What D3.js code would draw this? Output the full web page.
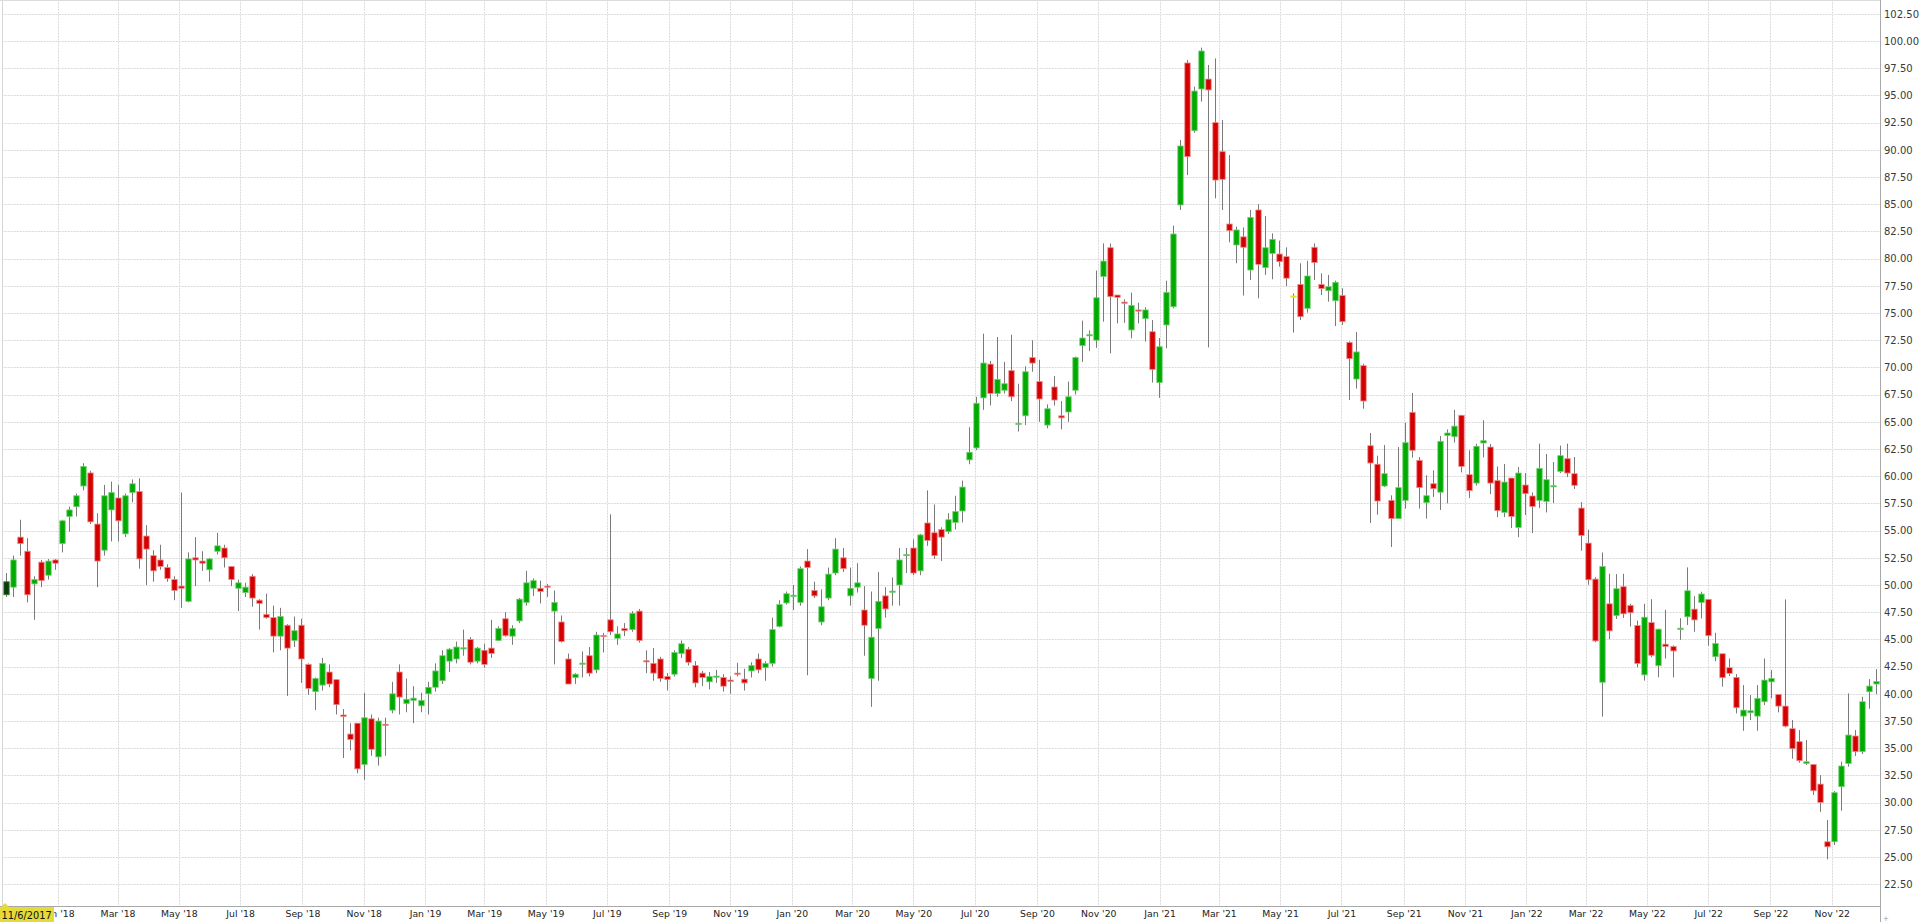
<!DOCTYPE html>
<html><head><meta charset="utf-8">
<script src="https://cdn.jsdelivr.net/npm/d3@7"></script>
<style>
html,body{margin:0;padding:0;background:#fff;overflow:hidden}
svg{display:block}
</style></head><body>
<svg id="c" width="1920" height="922"></svg>
<script>
// weekly candles, Monday dates from weekStart up to (but excluding) weekEnd
const weekStart = "2017-11-06";
const weekEnd = "2022-12-13";
const openVals = [
49.1,49.8,54.4,53.1,50.1,52.1,50.9,52.3,53.8,56.3,57.2,59.1,60.3,55.6,53.2,56.9,58.0,54.7,58.5,58.6,
54.5,52.7,52.3,51.6,50.5,49.9,48.5,52.5,52.2,51.4,53.1,53.4,51.7,49.7,49.3,50.8,48.6,47.3,47.0,45.3,
46.3,44.9,46.3,42.7,40.2,40.8,42.0,41.3,38.05,36.3,37.3,33.5,37.7,34.2,37.2,38.5,42.0,39.1,39.4,38.9,
40.0,40.6,41.2,43.0,43.2,44.2,45.0,43.0,44.0,44.2,44.9,46.9,45.3,46.7,48.4,49.7,49.7,49.9,47.6,46.6,
43.2,41.5,42.8,43.5,42.2,45.37,46.8,45.1,46.0,45.9,47.6,43.04,42.8,43.2,41.6,41.8,43.7,44.1,42.6,41.9,
41.1,41.57,41.5,41.26,41.9,41.35,42.1,43.2,42.4,42.8,46.2,48.35,49.03,48.4,52.2,49.5,46.6,48.8,51.1,52.5,
49.0,49.8,47.7,41.4,46.0,49.0,49.4,50.0,52.73,53.4,51.3,55.7,54.8,55.1,54.9,55.75,56.8,61.5,62.6,67.2,
70.3,67.6,67.9,69.7,64.8,65.55,70.9,68.7,64.7,68.2,65.55,65.9,67.9,72.0,72.92,72.5,78.35,81.0,76.65,76.0,
73.44,75.28,74.48,73.28,68.6,73.9,75.58,84.93,97.98,91.76,95.59,96.5,92.5,89.83,83.18,81.25,82.0,78.95,84.47,79.17,
80.48,80.42,80.18,76.56,77.63,75.43,81.04,77.63,77.05,76.13,76.6,72.3,68.93,70.16,62.8,61.1,59.1,57.78,56.1,57.78,
65.87,61.46,57.57,59.31,58.53,63.75,63.63,65.6,60.14,59.37,63.05,62.68,59.59,56.67,59.83,55.29,59.19,58.18,57.78,57.68,
59.1,60.44,61.61,60.23,57.07,53.85,50.54,41.06,48.27,47.19,49.84,48.12,46.27,41.74,46.55,42.59,44.56,44.34,46.0,47.08,
47.78,48.4,48.68,43.41,43.68,42.4,41.5,37.95,38.26,37.95,39.27,41.1,39.94,38.87,36.79,35.6,33.6,33.51,31.7,26.4,
26.4,31.46,33.6,36.12,34.68,40.19,40.9
];
const highVals = [
51.1,52.7,56.0,54.3,50.8,52.3,52.4,52.4,56.0,57.2,58.4,61.2,60.5,56.6,59.2,59.5,59.2,58.4,59.7,59.8,
55.5,53.2,53.7,51.9,50.8,58.5,53.0,54.4,53.1,52.5,54.8,53.7,51.7,50.5,50.2,51.0,48.7,49.2,48.1,47.9,
46.4,47.1,46.9,42.8,41.5,43.3,42.7,41.3,38.6,37.3,37.3,40.1,38.1,37.8,37.8,41.1,42.7,41.4,40.7,40.1,
41.1,42.8,44.0,44.2,44.8,45.9,45.2,44.3,44.6,46.8,46.2,47.5,46.3,48.8,51.3,50.6,50.4,50.1,49.5,47.2,
43.7,41.9,43.9,44.3,45.7,45.6,56.5,46.2,46.5,47.6,47.8,44.0,44.2,43.4,41.9,44.0,44.9,44.3,43.0,42.1,
42.0,42.2,41.8,41.6,42.85,42.3,42.9,43.7,43.0,47.0,48.6,49.4,50.0,51.7,53.3,50.3,49.6,51.6,54.3,53.4,
51.6,52.0,49.9,49.4,51.2,49.8,50.7,53.4,53.4,54.2,54.7,58.7,57.4,55.3,56.6,58.2,59.6,64.5,67.3,73.1,
70.6,72.8,70.5,73.0,68.5,70.1,72.5,70.7,66.6,69.2,66.9,68.7,71.0,74.3,73.4,78.9,81.4,81.4,76.65,76.26,
76.87,75.95,75.52,74.35,72.7,77.97,83.03,90.9,98.25,95.8,99.39,97.8,98.4,92.74,89.52,82.94,82.87,84.47,85.0,83.92,
82.32,81.65,81.03,76.8,79.57,79.8,81.4,78.65,78.5,77.97,77.27,72.4,73.25,70.34,63.97,61.89,62.87,58.24,62.68,64.92,
67.65,61.76,60.08,60.54,63.7,64.3,66.1,65.6,62.38,62.99,65.14,62.96,60.9,61.12,59.83,60.84,60.29,58.51,62.99,62.04,
61.3,62.81,62.99,61.76,57.62,55.08,50.72,52.99,51.03,51.0,51.03,48.27,46.73,48.27,48.7,45.99,47.72,44.46,46.95,51.62,
48.98,49.38,48.68,45.61,43.68,43.25,41.81,40.8,39.88,40.8,43.25,42.18,39.94,48.68,37.59,36.67,35.75,33.51,32.53,28.4,
31.06,33.76,40.04,36.67,39.73,41.35,42.27
];
const lowVals = [
48.9,48.9,52.7,48.4,46.8,49.8,50.5,51.4,53.0,54.9,56.3,58.7,55.6,49.8,52.7,54.0,54.0,54.4,57.6,51.5,
50.0,50.3,51.4,50.3,48.6,47.9,48.4,49.9,51.3,50.3,52.8,51.6,49.9,47.6,48.9,48.0,45.9,46.9,43.8,44.0,
39.8,44.3,41.0,39.9,38.5,40.3,40.6,38.1,34.1,34.8,32.7,32.1,34.3,33.4,34.3,38.2,38.1,38.3,37.3,38.3,
38.1,40.2,40.9,42.0,42.8,43.5,42.7,42.8,42.4,43.3,44.85,45.25,44.5,46.5,48.1,49.0,48.3,48.9,42.7,44.7,
40.9,40.9,41.5,41.6,41.9,43.8,45.4,44.5,45.3,45.7,44.7,41.9,41.2,41.1,40.3,41.6,43.3,42.6,40.6,40.7,
40.4,41.0,40.2,40.0,41.6,40.3,41.5,41.9,41.2,42.5,46.1,48.2,47.7,48.1,41.7,48.8,46.3,48.6,50.9,51.2,
48.1,49.3,43.5,38.8,41.2,47.0,48.1,48.1,51.1,50.9,50.9,53.6,52.4,52.2,54.7,55.1,55.75,61.1,62.4,66.1,
66.5,67.3,67.6,66.9,64.1,64.7,69.6,65.0,64.4,66.5,64.3,65.0,67.5,70.5,71.5,71.8,74.2,71.3,74.05,74.1,
72.67,74.05,72.37,68.6,67.2,71.75,75.43,84.47,87.68,91.57,94.42,71.84,85.54,84.47,81.5,79.57,76.6,78.03,76.35,78.5,
78.1,79.26,77.48,73.2,74.35,75.03,78.03,76.65,76.04,73.8,73.9,67.0,68.05,66.2,55.7,56.46,59.0,53.49,56.1,57.02,
61.7,57.02,56.1,58.09,56.9,57.5,63.1,60.35,57.99,59.13,61.73,58.36,56.24,56.24,55.23,54.4,56.43,54.77,57.07,56.67,
57.53,60.29,59.92,58.82,53.15,50.02,44.74,37.9,45.02,46.88,46.97,46.18,42.44,41.21,43.36,41.52,43.24,41.52,44.95,46.32,
45.7,46.93,44.42,43.0,40.65,41.63,38.2,36.6,37.59,36.6,38.96,39.58,38.29,36.91,34.03,33.66,33.45,30.7,29.16,24.78,
26.1,29.25,33.3,34.28,34.46,38.63,39.97
];
const closeVals = [
50.3,52.3,53.8,49.1,50.5,50.4,52.2,52.0,55.9,56.9,58.2,60.9,55.8,52.2,58.2,58.5,55.9,58.2,59.3,52.4,
53.3,51.3,51.7,50.6,49.5,49.7,52.4,52.3,52.0,52.4,53.6,52.5,50.5,50.2,49.8,48.8,48.3,47.0,45.3,47.1,
44.2,45.8,43.2,40.5,41.4,42.8,40.9,39.0,37.92,35.8,33.1,37.8,34.9,37.5,37.1,40.0,39.7,39.5,39.6,39.4,
40.6,42.1,43.5,44.1,44.3,44.23,42.9,44.2,42.7,43.7,46.0,45.34,46.0,48.7,50.2,50.4,49.4,49.8,48.4,44.8,
40.9,41.8,42.82,41.9,45.4,45.3,45.7,45.5,45.8,47.4,44.9,42.95,41.9,41.4,41.3,43.8,44.6,42.9,41.0,41.5,
41.6,41.63,40.7,41.14,41.82,41.0,42.6,42.2,42.8,45.9,48.2,49.2,49.06,51.5,51.6,49.0,48.0,51.0,53.3,51.5,
49.7,50.2,46.3,45.2,48.5,47.8,49.44,52.3,52.8,51.1,54.6,54.1,52.7,54.4,56.0,56.75,59.0,62.2,66.7,70.4,
67.6,68.9,68.5,67.3,64.86,69.6,70.4,67.1,66.2,67.0,65.36,67.3,70.9,72.7,73.01,76.4,79.77,76.5,76.44,75.95,
75.7,75.22,75.28,69.82,71.9,76.9,82.26,90.35,89.37,95.4,99.08,95.5,87.22,87.29,82.57,82.63,81.04,83.79,79.47,81.0,
81.77,79.72,78.2,76.56,74.66,78.4,79.63,77.24,77.42,77.82,74.2,70.8,71.42,66.91,61.21,57.72,60.23,56.1,58.95,63.08,
62.38,58.95,58.21,58.85,63.2,63.97,64.6,60.9,58.67,62.75,63.27,59.37,56.83,59.46,56.3,60.29,58.39,57.22,60.72,59.68,
59.13,61.89,60.29,59.16,54.56,50.48,44.86,51.7,45.78,49.66,47.35,47.45,42.78,47.04,43.54,45.94,44.34,43.94,46.03,49.47,
46.79,49.17,45.34,44.63,41.48,41.88,38.72,38.5,38.44,39.58,41.26,41.42,38.87,37.03,34.95,33.85,33.75,31.09,30.02,25.94,
30.91,33.36,36.21,34.68,39.27,40.71,41.14
];
// special-coloured weeks: 0 = selected (dark), 183 = unchanged (yellow)
const selectedWeek = 0;
const flatWeek = 183;
const yTicks = [22.5,25,27.5,30,32.5,35,37.5,40,42.5,45,47.5,50,52.5,55,57.5,60,62.5,65,67.5,70,72.5,75,77.5,80,82.5,85,87.5,90,92.5,95,97.5,100,102.5];
const startLabel = "11/6/2017";

const svg = d3.select("#c");
const plotL = 2, plotR = 1880, plotT = 0, plotB = 906;
const parse = d3.utcParse("%Y-%m-%d");
const dates = d3.utcMonday.range(parse(weekStart), parse(weekEnd));
const data = dates.map((d,i)=>({d, o:openVals[i], h:highVals[i], l:lowVals[i], c:closeVals[i], i}));

const x = d3.scaleUtc()
  .domain([dates[0], d3.utcDay.offset(dates[dates.length-1], 7)])
  .range([plotL, plotR]);
const y = d3.scaleLinear().domain([22.5, 102.5]).range([884.2, 13.8]);
const halfWeek = (x(dates[1]) - x(dates[0])) / 2;

const monthTicks = d3.utcMonth.every(2).range(parse("2018-01-01"), parse("2022-12-01"));

// grid
const grid = svg.append("g");
grid.selectAll("line.h").data(yTicks).join("line")
  .attr("x1", plotL).attr("x2", plotR)
  .attr("y1", d=>Math.round(y(d))+0.5).attr("y2", d=>Math.round(y(d))+0.5)
  .attr("stroke", "#f2f2f2").attr("stroke-width", 1);
grid.selectAll("line.hd").data(yTicks).join("line")
  .attr("x1", plotL).attr("x2", plotR)
  .attr("y1", d=>Math.round(y(d))+0.5).attr("y2", d=>Math.round(y(d))+0.5)
  .attr("stroke", "#dadada").attr("stroke-width", 1).attr("stroke-dasharray", "1.5,1.5");
grid.selectAll("line.v").data(monthTicks).join("line")
  .attr("x1", d=>Math.round(x(d))+0.5).attr("x2", d=>Math.round(x(d))+0.5)
  .attr("y1", plotT).attr("y2", plotB)
  .attr("stroke", "#f2f2f2").attr("stroke-width", 1);
grid.selectAll("line.vd").data(monthTicks).join("line")
  .attr("x1", d=>Math.round(x(d))+0.5).attr("x2", d=>Math.round(x(d))+0.5)
  .attr("y1", plotT).attr("y2", plotB)
  .attr("stroke", "#dadada").attr("stroke-width", 1).attr("stroke-dasharray", "1.5,1.5");

// borders
svg.append("line").attr("x1", plotL+0.5).attr("x2", plotL+0.5).attr("y1", 0).attr("y2", plotB).attr("stroke", "#d6d6d6");
svg.append("line").attr("x1", 0).attr("x2", plotR).attr("y1", 0.5).attr("y2", 0.5).attr("stroke", "#dcdcdc");

// candles
const cx = d => x(d.d) + halfWeek;
const bw = 5.4;
const g = svg.append("g");
g.selectAll("line.w").data(data).join("line")
  .attr("x1", d=>Math.round(cx(d))+0.5).attr("x2", d=>Math.round(cx(d))+0.5)
  .attr("y1", d=>y(d.h)).attr("y2", d=>y(d.l))
  .attr("stroke", "#7a7a7a").attr("stroke-width", 1);

function fillOf(d){
  if (d.i === selectedWeek) return "#0b3b0b";
  if (d.i === flatWeek) return "#f2e21a";
  return d.c >= d.o ? "#00aa00" : "#d40000";
}
function strokeOf(d){
  if (d.i === selectedWeek) return "#3f8a3f";
  if (d.i === flatWeek) return "#f2e21a";
  return d.c >= d.o ? "#74cf74" : "#ee8a8a";
}
g.selectAll("rect.b").data(data).join("rect")
  .attr("x", d=>Math.round(cx(d))+0.5-bw/2)
  .attr("width", bw)
  .attr("y", d=>Math.min(y(d.o), y(d.c)))
  .attr("height", d=>Math.max(Math.abs(y(d.o)-y(d.c)), 1.2))
  .attr("fill", fillOf)
  .attr("stroke", strokeOf)
  .attr("stroke-width", 0.8);

// axes
const yAxis = d3.axisRight(y).tickValues(yTicks).tickSize(0).tickPadding(4)
  .tickFormat(d3.format(".2f"));
const ya = svg.append("g").attr("transform", `translate(${plotR},0)`).call(yAxis);
ya.select(".domain").remove();
ya.selectAll("text").attr("font-family", "DejaVu Sans, Verdana, sans-serif").attr("font-size", 10).attr("fill", "#3a3a3a");

const xAxis = d3.axisBottom(x).tickValues(monthTicks).tickSize(0).tickPadding(4)
  .tickFormat(d3.utcFormat("%b '%y"));
const xa = svg.append("g").attr("transform", `translate(0,${plotB})`).call(xAxis);
xa.select(".domain").remove();
xa.selectAll("text").attr("font-family", "DejaVu Sans, Verdana, sans-serif").attr("font-size", 9.3).attr("fill", "#222");

svg.append("line").attr("x1", 0).attr("x2", plotR).attr("y1", plotB+0.5).attr("y2", plotB+0.5).attr("stroke", "#a8a8a8");
svg.append("line").attr("x1", plotR+0.5).attr("x2", plotR+0.5).attr("y1", 0).attr("y2", 922).attr("stroke", "#a8a8a8");

// start-date marker
svg.append("rect").attr("x", 0).attr("y", plotB+1).attr("width", 54).attr("height", 15).attr("fill", "#e4da3a");
svg.append("path").attr("d", `M1,${plotB+1}L5,${plotB-3}L9,${plotB+1}Z`).attr("fill", "#e4da3a");
svg.append("text").attr("x", 1.5).attr("y", plotB+12.5).text(startLabel)
  .attr("font-family", "DejaVu Sans, Verdana, sans-serif").attr("font-size", 9.8).attr("fill", "#111");
svg.append("text").attr("x", 1883).attr("y", 921).text("+")
  .attr("font-family", "DejaVu Sans, sans-serif").attr("font-size", 7).attr("fill", "#999");
</script>
</body></html>
